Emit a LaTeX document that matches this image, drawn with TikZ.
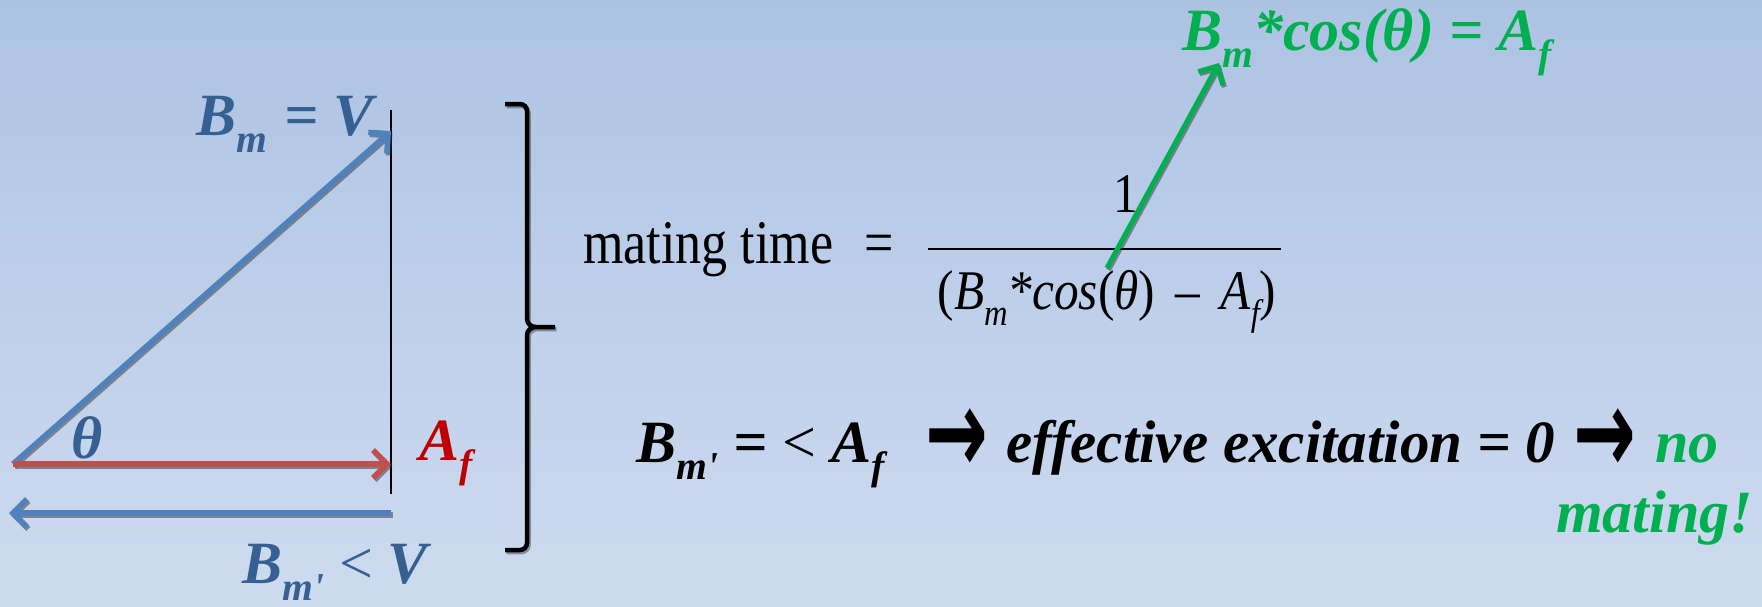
\documentclass[tikz,border=0pt]{standalone}
\usepackage{fontspec}
\setmainfont{Liberation Serif}[BoldFont={Liberation Serif Bold}, ItalicFont={Liberation Serif Italic}, BoldItalicFont={Liberation Serif Bold Italic}]
\newfontfamily\arrfont{DejaVu Sans}
\usetikzlibrary{arrows.meta}
\definecolor{bgtop}{RGB}{173,195,227}
\definecolor{bgbot}{RGB}{206,219,240}
\definecolor{txtblue}{RGB}{54,96,146}
\definecolor{arrblue}{RGB}{79,129,189}
\definecolor{arrred}{RGB}{192,80,77}
\definecolor{txtred}{RGB}{192,0,0}
\definecolor{grn}{RGB}{0,176,80}
\newcommand{\sbs}[1]{\raisebox{-0.29em}{\scalebox{0.66}{#1}}}
\newcommand{\rarr}{{\arrfont\bfseries\upshape\scalebox{1.25}[2.0]{→}}}
\begin{document}
\begin{tikzpicture}[x=1pt,y=-1pt,
  lab/.style={font=\fontsize{60}{70}\selectfont\bfseries\itshape, inner sep=0pt},
  eqn/.style={inner sep=0pt},
  vec/.style={line width=5.5pt, -{Straight Barb[length=14pt,width=28pt]}},
  vecshadow/.style={vec, draw=black!80, opacity=0.5, transform canvas={shift={(1.5pt,-2pt)}}},
  brk/.style={line width=4.5pt, line join=round},
  brkshadow/.style={brk, draw=black!80, opacity=0.45, transform canvas={shift={(1.5pt,-2pt)}}}
]
\shade[top color=bgtop, bottom color=bgbot] (0,0) rectangle (1762,606);
\useasboundingbox (0,0) rectangle (1762,606);

% named points of the vector diagram
\coordinate (O) at (13,464);
\coordinate (D) at (391,131);
\coordinate (R) at (391,464);
\coordinate (L1) at (391,513);
\coordinate (L2) at (9,513);
\coordinate (V1) at (391,110);
\coordinate (V2) at (391,494);

% vertical reference line
\draw[line width=1.6pt] (V1) -- (V2);

% shadows
\draw[vecshadow] (O) -- (D);
\draw[vecshadow] (O) -- (R);
\draw[vecshadow] (L1) -- (L2);
% vectors
\draw[vec, arrblue] (O) -- (D);
\draw[vec, arrred] (O) -- (R);
\draw[vec, arrblue] (L1) -- (L2);

% labels of the vector diagram
\node[lab, txtblue, anchor=base west] (bm) at (196,135) {B\sbs{m}\hspace{2pt} = V};
\node[lab, txtblue, anchor=base] (theta) at (87,458) {θ};
\node[lab, txtred, anchor=base west] (af) at (419,460) {A\sbs{f}};
\node[lab, txtblue, anchor=base west] (bmp) at (242,583) {B\sbs{m\textquotesingle} {\mdseries\upshape <} V};

% bracket
\coordinate (T1) at (505,104);
\coordinate (T2) at (505,550);
\coordinate (TP) at (555,327);
\draw[brkshadow] (T1) -- (520,104) to[out=0,in=90] (527,111) -- (527,319) to[out=-90,in=180] (536,327) -- (TP)
  (536,327) to[out=180,in=90] (527,335) -- (527,543) to[out=-90,in=0] (520,550) -- (T2);
\draw[brk] (T1) -- (520,104) to[out=0,in=90] (527,111) -- (527,319) to[out=-90,in=180] (536,327) -- (TP)
  (536,327) to[out=180,in=90] (527,335) -- (527,543) to[out=-90,in=0] (520,550) -- (T2);

% formula
\node[eqn, anchor=base west, font=\fontsize{62}{70}\selectfont] (mt) at (583,263) {\scalebox{0.84}[1]{mating time}};
\node[eqn, anchor=base, font=\fontsize{62}{70}\selectfont] (eq) at (879,263) {\scalebox{0.84}[1]{=}};
\coordinate (F1) at (928,249);
\coordinate (F2) at (1281,249);
\draw[line width=2.4pt] (F1) -- (F2);
\node[eqn, anchor=base, font=\fontsize{56}{60}\selectfont] (one) at (1126,212) {\scalebox{0.88}[1]{1}};
\node[eqn, anchor=base, font=\fontsize{56}{60}\selectfont] (den) at (1107,309) {\scalebox{0.88}[1]{(\textit{B\sbs{m}*cos}(\textit{θ})\, –\, \textit{A\sbs{f}})}};

% green arrow and label
\coordinate (G1) at (1107,268);
\coordinate (G2) at (1219,63);
\draw[vecshadow, line width=5pt] (G1) -- (G2);
\draw[vec, grn, line width=5pt] (G1) -- (G2);
\node[lab, grn, anchor=base west] (glab) at (1182,50) {B\sbs{m}*cos(θ) = A\sbs{f}};

% bottom statement
\node[lab, anchor=base west] (s1) at (636,462) {B\sbs{m\textquotesingle} = {\mdseries\upshape <} A\sbs{f}};
\node[lab, anchor=center] (a1) at (957,441) {\rarr};
\node[lab, anchor=base west] (s2) at (1006,462) {\scalebox{0.984}[1]{effective excitation = 0}};
\node[lab, anchor=center] (a2) at (1605,441) {\rarr};
\node[lab, grn, anchor=base west] (no) at (1655,462) {no};
\node[lab, grn, anchor=base east] (mating) at (1753,532) {mating!};
\end{tikzpicture}
\end{document}
